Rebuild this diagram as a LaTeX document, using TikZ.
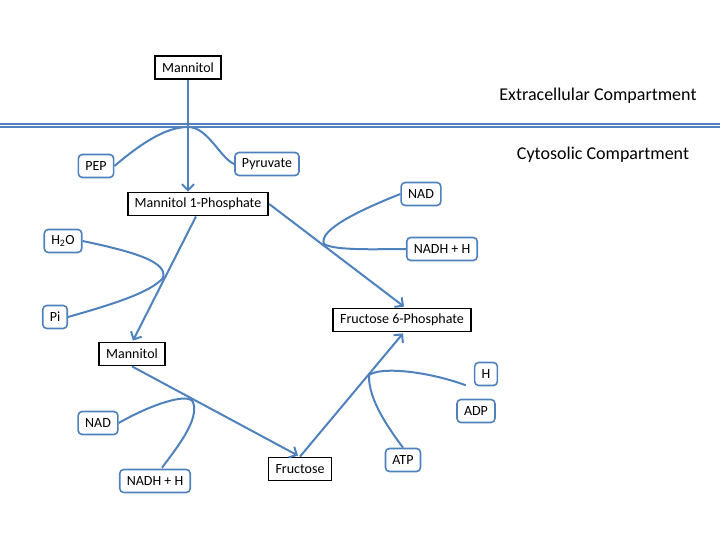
\documentclass[tikz,border=0pt]{standalone}
\usepackage{fontspec}
\setmainfont{Carlito}
\usepackage{tikz}
\usetikzlibrary{arrows.meta,positioning,calc}
\definecolor{pathblue}{RGB}{79,129,189}
\tikzstyle{block} = [rectangle, draw=black, fill=white, line width=1.8pt,
    inner xsep=7pt, minimum height=23pt, font=\fontsize{14}{16}\selectfont]
\tikzstyle{cofactor} = [rectangle, draw=pathblue, fill=white, line width=1.6pt,
    rounded corners=4pt, inner xsep=7pt, minimum height=23pt,
    font=\fontsize{14}{16}\selectfont]
\tikzstyle{line} = [draw=pathblue, line width=2pt, -{Straight Barb[length=6pt,width=12pt]}]
\tikzstyle{side} = [draw=pathblue, line width=2pt]
\tikzstyle{membrane} = [draw=pathblue, line width=2pt]

\begin{document}
\begin{tikzpicture}[x=1pt, y=-1pt]
    \useasboundingbox (0,0) rectangle (720,540);

    % Membrane
    \path [membrane] (0,123.6) coordinate (memL) -- (720,123.6) coordinate (memR);
    \path [membrane] (memL) ++(0,3.8) -- ($(memR)+(0,3.8)$);
    \node [font=\fontsize{18}{20}\selectfont] (extra) at (598,96) {Extracellular Compartment};
    \node [font=\fontsize{18}{20}\selectfont] (cyto) at (603,155) {Cytosolic Compartment};

    % Main compounds
    \node [block] (mannout) at (188,67.5) {Mannitol};
    \node [block] (m1p) at (198,204) {Mannitol 1-Phosphate};
    \node [block] (mannin) at (132,354) {Mannitol};
    \node [block] (fru) at (300,469) {Fructose};
    \node [block] (f6p) at (402,320) {Fructose 6-Phosphate};

    % Cofactors
    \node [cofactor] (pep) at (96,166) {PEP};
    \node [cofactor] (pyr) at (267,164) {Pyruvate};
    \node [cofactor] (water) at (63,241) {H\textsubscript{2}O};
    \node [cofactor] (pi) at (55,317) {Pi};
    \node [cofactor] (nadR) at (421,194) {NAD};
    \node [cofactor] (nadhR) at (442,249) {NADH + H};
    \node [cofactor] (hplus) at (486,374) {H};
    \node [cofactor] (adp) at (476,411) {ADP};
    \node [cofactor] (atp) at (403,460) {ATP};
    \node [cofactor] (nadL) at (98,423) {NAD};
    \node [cofactor] (nadhL) at (155,481) {NADH + H};

    % Connections
    \path [line] (mannout.south) -- (mannout.south |- m1p.north);
    \path [line] ($(m1p.south)+(-2,0)$) -- ($(mannin.north)+(1,-1)$);
    \path [line] (m1p.east) -- ($(f6p.north)+(2,-1)$);
    \path [line] (mannin.south) -- ($(fru.north)+(-2,-1)$);
    \path [line] (fru.north) -- ($(f6p.south)+(1,1)$);

    % Side reactions
    \path [side] (pep.east) .. controls (145,140) and (168,127) .. (188,127)
        .. controls (208,127) and (220,158) .. (pyr.west);
    \path [side] (water.east) .. controls (135,252) and (168,262) .. (163,278)
        .. controls (150,293) and (110,305) .. (pi.east);
    \path [side] (nadR.west) .. controls (360,210) and (318,230) .. (324,244)
        .. controls (335,251) and (380,249) .. (nadhR.west);
    \path [side] (nadL.east) .. controls (150,405) and (188,392) .. (193,402)
        .. controls (200,420) and (175,450) .. ($(nadhL.north)+(7,-1)$);
    \coordinate (hend) at ($(hplus.south west)+(-8,-1)$);
    \path [side] (hend) .. controls (430,372) and (382,366) .. (369,375)
        .. controls (368,400) and (390,430) .. (atp.north);
\end{tikzpicture}
\end{document}
